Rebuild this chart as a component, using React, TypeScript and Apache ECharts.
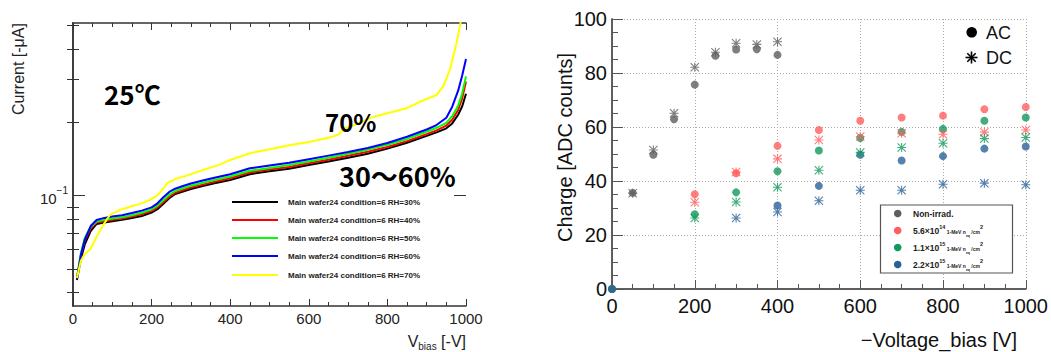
import React, { useEffect, useRef } from 'react';
import * as echarts from 'echarts';

// ---------- Left chart: I-V curves ----------
const voltages = [10, 20, 30, 45, 60, 80, 100, 125, 150, 175, 200, 215, 230, 245, 260, 280, 300, 330, 360, 400, 450, 500, 550, 600, 650, 700, 750, 800, 850, 900, 925, 950, 965, 980, 990, 1000];
const rh30 = [0.045, 0.055, 0.063, 0.0715, 0.0765, 0.0775, 0.0785, 0.0795, 0.081, 0.0825, 0.0852, 0.088, 0.0925, 0.0975, 0.1015, 0.104, 0.1065, 0.1095, 0.1125, 0.116, 0.1225, 0.126, 0.129, 0.1335, 0.138, 0.143, 0.1485, 0.156, 0.165, 0.176, 0.182, 0.189, 0.198, 0.215, 0.232, 0.262];
const rh40 = [0.0455, 0.057, 0.0655, 0.0735, 0.0775, 0.0785, 0.0795, 0.0805, 0.082, 0.0838, 0.0866, 0.0895, 0.094, 0.099, 0.1028, 0.1055, 0.108, 0.111, 0.114, 0.1178, 0.1245, 0.128, 0.1312, 0.1358, 0.1405, 0.1458, 0.1515, 0.1585, 0.1675, 0.179, 0.1855, 0.194, 0.205, 0.225, 0.25, 0.294];
const rh50 = [0.046, 0.058, 0.067, 0.0745, 0.0782, 0.0795, 0.0805, 0.0815, 0.083, 0.085, 0.0878, 0.091, 0.0958, 0.1008, 0.1045, 0.1072, 0.1098, 0.113, 0.116, 0.1198, 0.1265, 0.13, 0.1335, 0.1382, 0.143, 0.1485, 0.1545, 0.1618, 0.171, 0.183, 0.19, 0.199, 0.212, 0.234, 0.262, 0.309];
const rh60 = [0.0455, 0.057, 0.066, 0.075, 0.0794, 0.081, 0.082, 0.083, 0.0848, 0.0868, 0.0895, 0.093, 0.0985, 0.1035, 0.1068, 0.1095, 0.1122, 0.1153, 0.1185, 0.1225, 0.1295, 0.133, 0.1365, 0.1412, 0.146, 0.151, 0.157, 0.1645, 0.1745, 0.187, 0.195, 0.209, 0.232, 0.27, 0.31, 0.364];
const yellowVoltages = [10, 20, 30, 45, 60, 77, 94, 120, 145, 170, 196, 215, 230, 240, 260, 280, 300, 330, 370, 400, 450, 500, 550, 600, 650, 675, 690, 720, 765, 800, 850, 890, 925, 942, 959, 976, 986, 995];
const rh70 = [0.0459, 0.054, 0.0575, 0.0605, 0.0678, 0.0758, 0.0833, 0.0874, 0.09, 0.0925, 0.096, 0.1005, 0.107, 0.1125, 0.117, 0.1197, 0.1225, 0.1275, 0.1335, 0.14, 0.1494, 0.155, 0.161, 0.166, 0.173, 0.178, 0.189, 0.196, 0.211, 0.218, 0.229, 0.246, 0.259, 0.281, 0.329, 0.424, 0.512, 0.6];
const ivLabels = ['Main wafer24 condition=6 RH=30%', 'Main wafer24 condition=6 RH=40%', 'Main wafer24 condition=6 RH=50%', 'Main wafer24 condition=6 RH=60%', 'Main wafer24 condition=6 RH=70%'];
const ivColors = ['#000000', '#ff0000', '#00ff00', '#0000ff', '#ffff00'];
const ivXTicks = [0, 200, 400, 600, 800, 1000];
const currentMin = 0.0352;
const currentMax = 0.512;
const currentMinorTicks = [0.04, 0.05, 0.06, 0.07, 0.08, 0.09, 0.2, 0.3, 0.4, 0.5];
const currentLabelTicks = [0.1];

// ---------- Right chart: charge vs bias ----------
const nonIrradACV = [0, 50, 100, 150, 200, 250, 300, 350, 400];
const nonIrradAC = [0, 35.6, 49.7, 62.9, 75.7, 86.4, 88.7, 88.8, 86.7];
const nonIrradDCV = [50, 100, 150, 200, 250, 300, 350, 400];
const nonIrradDC = [35.5, 51.5, 65.1, 82.1, 87.7, 91.0, 90.6, 91.6];
const f56ACV = [0, 200, 300, 400, 500, 600, 700, 800, 900, 1000];
const f56AC = [0, 35.1, 42.9, 53.0, 58.9, 62.3, 63.5, 64.2, 66.6, 67.4];
const f56DCV = [200, 300, 400, 500, 600, 700, 800, 900, 1000];
const f56DC = [32.1, 43.3, 48.2, 55.2, 56.5, 57.7, 57.3, 58.1, 58.9];
const f11ACV = [0, 200, 300, 400, 500, 600, 700, 800, 900, 1000];
const f11AC = [0, 27.7, 35.8, 43.6, 51.3, 55.9, 58.2, 59.3, 62.3, 63.5];
const f11DCV = [200, 300, 400, 500, 600, 700, 800, 900, 1000];
const f11DC = [26.3, 32.2, 37.7, 44.0, 50.6, 52.4, 54.0, 55.7, 56.1];
const f22ACV = [0, 400, 500, 600, 700, 800, 900, 1000];
const f22AC = [0, 30.9, 38.2, 49.7, 47.6, 49.2, 52.0, 52.8];
const f22DCV = [300, 400, 500, 600, 700, 800, 900, 1000];
const f22DC = [26.3, 28.5, 32.7, 36.6, 36.6, 38.8, 39.2, 38.6];
const chargeColors = ['#5e5e5e', '#ff5e5e', '#12995c', '#2b6199'];
const chargeNames = ['Non-irrad.', '5.6×10^14', '1.1×10^15', '2.2×10^15'];

const FONT = '"Liberation Sans", Arial, Helvetica, sans-serif';
const JP = '"Noto Sans CJK JP", "Noto Sans", sans-serif';
const L = (v: number) => Math.log10(v);
const ASTERISK = 'path://M8.8 0H11.2V20H8.8Z M0 8.8H20V11.2H0Z M0 1.7L1.7 0L20 18.3L18.3 20Z M18.3 0L20 1.7L1.7 20L0 18.3Z';

function pairs(xs: number[], ys: number[], tf?: (v: number) => number) {
  return xs.map((x, i) => [x, tf ? tf(ys[i]) : ys[i]]);
}

export default function App() {
  const ref = useRef<HTMLDivElement>(null);
  useEffect(() => {
    if (!ref.current) return;
    const chart = echarts.init(ref.current, null, { renderer: 'svg' });
    const ivSeriesData = [
      pairs(voltages, rh30, L),
      pairs(voltages, rh40, L),
      pairs(voltages, rh50, L),
      pairs(voltages, rh60, L),
      pairs(yellowVoltages, rh70, L),
    ];
    const ivSeries = ivSeriesData.map((d, i) => ({
      type: 'line',
      name: ivLabels[i],
      xAxisIndex: 0,
      yAxisIndex: 0,
      data: d,
      showSymbol: false,
      symbol: 'none',
      clip: true,
      lineStyle: { color: ivColors[i], width: 2 },
      z: 3,
    }));
    const acData = [pairs(nonIrradACV, nonIrradAC), pairs(f56ACV, f56AC), pairs(f11ACV, f11AC), pairs(f22ACV, f22AC)];
    const dcData = [pairs(nonIrradDCV, nonIrradDC), pairs(f56DCV, f56DC), pairs(f11DCV, f11DC), pairs(f22DCV, f22DC)];
    const chargeSeries: any[] = [];
    for (let i = 0; i < 4; i++) {
      chargeSeries.push({
        type: 'scatter', xAxisIndex: 2, yAxisIndex: 4, data: acData[i],
        symbol: 'circle', symbolSize: 8, clip: false,
        itemStyle: { color: chargeColors[i] }, z: 4,
      });
      chargeSeries.push({
        type: 'scatter', xAxisIndex: 2, yAxisIndex: 4, data: dcData[i],
        symbol: ASTERISK, symbolSize: 9, clip: false,
        itemStyle: { color: chargeColors[i], opacity: 0.8 }, z: 5,
      });
    }

    const minorLogTicks = currentMinorTicks.map(L);
    const axisLineL = { show: true, lineStyle: { color: '#333', width: 1.5 } };
    const axisLineR = { show: true, lineStyle: { color: '#555', width: 1.5 } };
    const plainNum = (v: number) => String(v);

    const legendGraphics: any[] = [];
    ivLabels.forEach((lab, i) => {
      const y = [202, 220, 238, 256, 275][i];
      legendGraphics.push({ type: 'line', shape: { x1: 232, y1: y, x2: 278, y2: y }, style: { stroke: ivColors[i], lineWidth: 2 }, z: 10 });
      legendGraphics.push({ type: 'text', x: 288, y, style: { text: lab, fill: '#222', font: `bold 8px ${FONT}`, verticalAlign: 'middle', align: 'left' }, z: 10 });
    });

    const richIrr = {
      b: { fontSize: 8.5, fontWeight: 'bold', fontFamily: FONT, fill: '#222', lineHeight: 14, verticalAlign: 'middle' },
      sup: { fontSize: 5.5, fontWeight: 'bold', fontFamily: FONT, fill: '#222', verticalAlign: 'top', lineHeight: 14 },
      t: { fontSize: 5, fontWeight: 'bold', fontFamily: FONT, fill: '#222', verticalAlign: 'middle', lineHeight: 14, padding: [3, 0, 0, 0] },
      sub: { fontSize: 3.5, fontWeight: 'bold', fontFamily: FONT, fill: '#222', verticalAlign: 'bottom', lineHeight: 14 },
    };
    const irrTexts = [
      '{b|Non-irrad.}',
      '{b|5.6×10}{sup|14}{t| 1-MeV n}{sub|eq}{t| /cm}{sup|2}',
      '{b|1.1×10}{sup|15}{t| 1-MeV n}{sub|eq}{t| /cm}{sup|2}',
      '{b|2.2×10}{sup|15}{t| 1-MeV n}{sub|eq}{t| /cm}{sup|2}',
    ];
    const irrLegend: any[] = [
      { type: 'rect', shape: { x: 880.5, y: 205, width: 132, height: 68 }, style: { fill: '#fff', stroke: '#555', lineWidth: 1.2 }, z: 10 },
    ];
    chargeNames.forEach((_, i) => {
      const y = [213.5, 230.5, 247.5, 264.5][i];
      irrLegend.push({ type: 'circle', shape: { cx: 897.7, cy: y, r: 3.8 }, style: { fill: chargeColors[i] }, z: 11 });
      irrLegend.push({ type: 'text', x: 913, y, style: { text: irrTexts[i], rich: richIrr, verticalAlign: 'middle', align: 'left' }, z: 11 });
    });

    const acdc: any[] = [
      { type: 'circle', shape: { cx: 971.7, cy: 32.3, r: 5.3 }, style: { fill: '#000' }, z: 10 },
      { type: 'text', x: 986, y: 32.5, style: { text: 'AC', fill: '#111', font: `18px ${FONT}`, verticalAlign: 'middle' }, z: 10 },
      { type: 'line', shape: { x1: 971.5, y1: 51.5, x2: 971.5, y2: 63.5 }, style: { stroke: '#000', lineWidth: 1.6 }, z: 10 },
      { type: 'line', shape: { x1: 965.5, y1: 57.5, x2: 977.5, y2: 57.5 }, style: { stroke: '#000', lineWidth: 1.6 }, z: 10 },
      { type: 'line', shape: { x1: 967.3, y1: 53.3, x2: 975.7, y2: 61.7 }, style: { stroke: '#000', lineWidth: 1.6 }, z: 10 },
      { type: 'line', shape: { x1: 975.7, y1: 53.3, x2: 967.3, y2: 61.7 }, style: { stroke: '#000', lineWidth: 1.6 }, z: 10 },
      { type: 'text', x: 986, y: 57.5, style: { text: 'DC', fill: '#111', font: `18px ${FONT}`, verticalAlign: 'middle' }, z: 10 },
    ];

    const annotations: any[] = [
      { type: 'text', x: 104, y: 93, style: { text: '25℃', fill: '#000', font: `bold 26px ${JP}`, verticalAlign: 'middle', align: 'left' }, z: 10 },
      { type: 'text', x: 325, y: 121, style: { text: '70%', fill: '#000', font: `bold 24px ${JP}`, verticalAlign: 'middle', align: 'left' }, z: 10 },
      { type: 'text', x: 339, y: 175, style: { text: '30〜60%', fill: '#000', font: `bold 27px ${JP}`, verticalAlign: 'middle', align: 'left' }, z: 10 },
      { type: 'text', x: 18, y: 69, rotation: Math.PI / 2, style: { text: 'Current [-μA]', fill: '#222', font: `16px ${FONT}`, align: 'center', verticalAlign: 'middle' }, z: 10 },
      {
        type: 'text', x: 466, y: 341, style: {
          text: '{a|V}{s|bias}{a| [-V]}', align: 'right', verticalAlign: 'middle',
          rich: {
            a: { fontSize: 16, fontFamily: FONT, fill: '#222', lineHeight: 20, verticalAlign: 'middle' },
            s: { fontSize: 10, fontFamily: FONT, fill: '#222', lineHeight: 20, verticalAlign: 'bottom' },
          },
        }, z: 10,
      },
      { type: 'text', x: 565, y: 147.5, rotation: Math.PI / 2, style: { text: 'Charge [ADC counts]', fill: '#111', font: `20px ${FONT}`, align: 'center', verticalAlign: 'middle' }, z: 10 },
      { type: 'text', x: 1017, y: 340, style: { text: '−Voltage_bias [V]', fill: '#111', font: `20px ${FONT}`, align: 'right', verticalAlign: 'middle' }, z: 10 },
    ];

    const option: any = {
      animation: false,
      backgroundColor: '#ffffff',
      grid: [
        { left: 73, top: 23, width: 393, height: 283 },
        { left: 612, top: 19, width: 415, height: 270 },
      ],
      xAxis: [
        {
          type: 'value', gridIndex: 0, position: 'bottom', min: 0, max: 1000, interval: 200,
          axisLine: axisLineL,
          axisTick: { show: true, inside: true, length: 7, lineStyle: { color: '#333', width: 1 } },
          minorTick: { show: true, splitNumber: 4, length: 4, lineStyle: { color: '#333', width: 1 } },
          axisLabel: { customValues: ivXTicks, formatter: plainNum, fontSize: 15, fontFamily: FONT, color: '#222', margin: 5 },
          splitLine: { show: false },
        },
        {
          type: 'value', gridIndex: 0, position: 'top', min: 0, max: 1000, interval: 200,
          axisLine: axisLineL,
          axisTick: { show: true, inside: true, length: 7, lineStyle: { color: '#333', width: 1 } },
          minorTick: { show: true, splitNumber: 4, length: 4, lineStyle: { color: '#333', width: 1 } },
          axisLabel: { show: false },
          splitLine: { show: false },
        },
        {
          type: 'value', gridIndex: 1, position: 'bottom', min: 0, max: 1000, interval: 200,
          axisLine: axisLineR,
          axisTick: { show: true, inside: true, length: 9, lineStyle: { color: '#555', width: 1 } },
          minorTick: { show: true, splitNumber: 4, length: 5, lineStyle: { color: '#555', width: 1 } },
          axisLabel: { formatter: plainNum, fontSize: 20, fontFamily: FONT, color: '#111', margin: 7 },
          splitLine: { show: true, lineStyle: { color: '#aaa', type: [1, 2], width: 1 } },
        },
        {
          type: 'value', gridIndex: 1, position: 'top', min: 0, max: 1000, interval: 200,
          axisLine: axisLineR, axisTick: { show: false }, axisLabel: { show: false }, splitLine: { show: false },
        },
      ],
      yAxis: [
        {
          type: 'value', gridIndex: 0, position: 'left', min: L(currentMin), max: L(currentMax),
          axisLine: axisLineL,
          axisTick: { show: true, inside: true, length: 6, customValues: minorLogTicks, lineStyle: { color: '#333', width: 1 } },
          axisLabel: {
            customValues: currentLabelTicks.map(L), margin: 5,
            formatter: () => '{a|10}{s|−1}',
            rich: {
              a: { fontSize: 15, fontFamily: FONT, color: '#222', lineHeight: 20, verticalAlign: 'bottom' },
              s: { fontSize: 10, fontFamily: FONT, color: '#222', lineHeight: 20, verticalAlign: 'top' },
            },
          },
          splitLine: { show: false },
        },
        {
          type: 'value', gridIndex: 0, position: 'right', min: L(currentMin), max: L(currentMax),
          axisLine: axisLineL,
          axisTick: { show: true, inside: true, length: 6, customValues: minorLogTicks, lineStyle: { color: '#333', width: 1 } },
          axisLabel: { show: false }, splitLine: { show: false },
        },
        {
          type: 'value', gridIndex: 0, position: 'left', min: L(currentMin), max: L(currentMax),
          axisLine: { show: false },
          axisTick: { show: true, inside: true, length: 12, customValues: currentLabelTicks.map(L), lineStyle: { color: '#333', width: 1 } },
          axisLabel: { show: false }, splitLine: { show: false },
        },
        {
          type: 'value', gridIndex: 0, position: 'right', min: L(currentMin), max: L(currentMax),
          axisLine: { show: false },
          axisTick: { show: true, inside: true, length: 12, customValues: currentLabelTicks.map(L), lineStyle: { color: '#333', width: 1 } },
          axisLabel: { show: false }, splitLine: { show: false },
        },
        {
          type: 'value', gridIndex: 1, position: 'left', min: 0, max: 100, interval: 20,
          axisLine: axisLineR,
          axisTick: { show: true, inside: true, length: 11, lineStyle: { color: '#555', width: 1 } },
          minorTick: { show: true, splitNumber: 4, length: 6, lineStyle: { color: '#555', width: 1 } },
          axisLabel: { fontSize: 20, fontFamily: FONT, color: '#111', margin: 5 },
          splitLine: { show: true, lineStyle: { color: '#aaa', type: [1, 2], width: 1 } },
        },
        {
          type: 'value', gridIndex: 1, position: 'right', min: 0, max: 100, interval: 20,
          axisLine: axisLineR, axisTick: { show: false }, axisLabel: { show: false }, splitLine: { show: false },
        },
      ],
      series: [...ivSeries, ...chargeSeries],
      graphic: [...legendGraphics, ...irrLegend, ...acdc, ...annotations],
    };
    chart.setOption(option);
    return () => chart.dispose();
  }, []);
  return <div ref={ref} style={{ position: 'fixed', left: 0, top: 0, width: 1051, height: 352, background: '#fff' }} />;
}
